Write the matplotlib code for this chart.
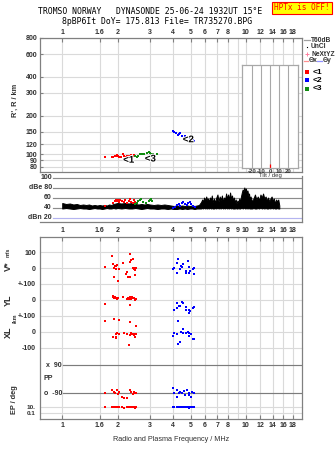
import numpy as np
import matplotlib
matplotlib.use('Agg')
import matplotlib.pyplot as plt
import matplotlib.patheffects as pe
import matplotlib.transforms as mtransforms
from matplotlib.ticker import NullLocator
from matplotlib.lines import Line2D

# ---------------- data ----------------
f_lo, f_hi = 0.757, 20.2
freq_labels_top = [1, 1.6, 2, 3, 4, 5, 6, 7, 8, 10, 12, 14, 16, 18]
freq_labels_mid = [1, 1.6, 2, 3, 4, 5, 6, 7, 8, 9, 10, 12, 14, 16, 18]
freq_grid = [1, 1.6, 2, 3, 4, 5, 6, 7, 8, 9, 10, 12, 14, 16, 18]
height_ticks = [80, 90, 100, 120, 150, 200, 300, 400, 600, 800]
db_ticks = [20, 40, 60, 80, 100]
db_labels = ['dBn 20', '40', '60', 'dBe 80', '100']
pp_ticks = [90, -90]
pp_labels = ['x  90', 'o  -90']
tilt_ticks = [-20, -10, 0, 10, 20]
tilt_value = [0]

# virtual heights (MHz, km)
h1_f = [1.70, 1.86, 1.90, 1.93, 1.96, 1.98, 2.00, 2.05, 2.10, 2.15, 2.18, 2.22, 2.26, 2.30, 2.34, 2.38, 2.42, 2.46]
h1_h = [95, 96, 96, 97, 97, 99, 97, 95, 96, 100, 98, 96, 98, 98, 97, 99, 98, 99]
h3_f = [2.50, 2.55, 2.60, 2.65, 2.72, 2.80, 2.88, 2.95, 3.00, 3.05, 3.12, 3.30]
h3_h = [97, 96, 98, 100, 101, 100, 102, 104, 103, 101, 100, 100]
h2_f = [4.01, 4.05, 4.16, 4.25, 4.30, 4.39, 4.49, 4.58, 4.68, 4.75, 4.88, 4.98, 5.05, 5.13, 5.19]
h2_h = [152, 148, 146, 142, 143, 146, 139, 135, 139, 136, 137, 133, 132, 129, 127]

# amplitude trace (MHz, dB)
amp_freq = [1.00, 1.05, 1.10, 1.15, 1.20, 1.25, 1.30, 1.35, 1.40, 1.45, 1.50, 1.55, 1.60, 1.65,
            1.70, 1.75, 1.80, 1.85, 1.90, 1.95, 2.00, 2.10, 2.20, 2.30, 2.40, 2.50, 2.60, 2.70,
            2.80, 2.90, 3.00, 3.15, 3.30, 3.45, 3.60, 3.75, 3.90, 4.05, 4.20, 4.35, 4.50, 4.65,
            4.80, 4.95, 5.10, 5.25, 5.40, 5.55,
            5.70, 5.78, 5.85, 5.92, 6.00, 6.08, 6.15, 6.22, 6.30, 6.38, 6.45, 6.52, 6.60, 6.70,
            6.80, 6.90, 7.00, 7.10, 7.20, 7.30, 7.40, 7.50, 7.60, 7.70, 7.80, 7.90, 8.00, 8.10,
            8.20, 8.30, 8.40, 8.50, 8.60, 8.70, 8.80, 8.90, 9.00, 9.10, 9.20, 9.30, 9.40, 9.50,
            9.60, 9.70, 9.80, 9.90, 10.0, 10.1, 10.2, 10.3, 10.4, 10.5, 10.6, 10.8, 11.0, 11.2,
            11.4, 11.6, 11.8, 12.0, 12.2, 12.4, 12.6, 12.8, 13.0, 13.2, 13.4, 13.6, 13.8, 14.0,
            14.2, 14.4, 14.6, 14.8, 15.0, 15.2]
amp_top = [50, 48, 49, 47, 48, 46, 47, 46, 47, 45, 46, 45, 46, 45,
           46, 45, 47, 46, 48, 49, 50, 49, 50, 49, 50, 48, 47, 48,
           47, 48, 47, 46, 47, 46, 47, 46, 45, 44, 45, 44, 45, 44,
           45, 44, 45, 44, 45, 46,
           52, 57, 53, 61, 55, 63, 56, 59, 53, 61, 55, 65, 51, 59,
           51, 61, 67, 53, 63, 56, 65, 53, 61, 57, 69, 59, 67, 57,
           71, 59, 65, 55, 61, 51, 57, 49, 55, 51, 59, 53, 63, 71,
           77, 73, 81, 75, 79, 71, 75, 65, 69, 57, 63, 53, 59, 67,
           57, 63, 55, 67, 61, 69, 59, 63, 55, 61, 53, 59, 63, 55,
           59, 49, 57, 53, 57, 45]
amp_bot = [39, 40, 39, 38, 39, 40, 39, 39, 38, 39, 40, 39, 39, 38,
           39, 40, 39, 39, 40, 39, 40, 39, 40, 39, 39, 40, 39, 38,
           39, 40, 39, 39, 38, 39, 39, 38, 39, 38, 38, 39, 38, 39,
           38, 39, 39, 38, 39, 39,
           39, 40, 39, 41, 39, 40, 39, 40, 39, 41, 39, 40, 39, 39,
           40, 39, 41, 39, 40, 39, 41, 39, 40, 39, 41, 39, 40, 39,
           41, 39, 40, 39, 39, 39, 40, 39, 39, 40, 39, 39, 40, 41,
           39, 40, 41, 39, 40, 39, 41, 39, 40, 39, 39, 39, 40, 39,
           39, 40, 39, 41, 39, 40, 39, 40, 39, 39, 40, 39, 41, 39,
           40, 39, 39, 40, 39, 39]

a1_f = [1.70, 1.90, 1.93, 1.96, 1.98, 2.00, 2.03, 2.07, 2.12, 2.16, 2.20, 2.25, 2.30, 2.35, 2.38, 2.42, 2.45, 2.48]
a1_db = [44, 50, 54, 56, 53, 55, 52, 56, 54, 51, 55, 50, 53, 57, 52, 50, 55, 52]
a3_f = [2.50, 2.55, 2.60, 2.65, 2.70, 2.75, 2.85, 2.95, 3.00, 3.05, 3.10]
a3_db = [48, 50, 53, 55, 57, 51, 49, 53, 56, 58, 54]
a2_f = [4.00, 4.10, 4.20, 4.30, 4.40, 4.50, 4.55, 4.65, 4.75, 4.85, 4.95, 5.05, 5.15, 5.25]
a2_db = [40, 41, 45, 47, 44, 50, 52, 47, 45, 49, 51, 48, 44, 42]

# velocities V* (m/s)
v1_f = [1.70, 1.87, 1.88, 1.92, 1.94, 1.96, 1.97, 1.99, 2.03, 1.91, 2.01, 2.14, 2.23,
        2.25, 2.29, 2.33, 2.35, 2.35, 2.37, 2.43, 2.43, 2.45, 2.47, 2.51, 2.50, 2.49]
v1_v = [6, 77, 25, -2, 10, 15, -6, 19, -6, -54, -79, 33, -35,
        -23, -54, -54, 90, 40, 50, 56, 2, -6, -2, 2, -44, -12]
v2_f = [4.25, 4.22, 4.01, 4.08, 4.22, 4.39, 4.45, 4.52, 4.49, 4.54, 4.84, 4.72, 4.88,
        4.88, 4.98, 5.12, 5.23, 5.19, 4.74]
v2_v = [56, 29, -8, 2, -31, -8, 15, 25, 4, 23, 46, -19, 4,
        -33, -19, -6, 2, -38, -31]

# YL (km)
y1_f = [1.70, 1.88, 1.90, 1.92, 1.95, 1.97, 1.99, 2.02, 2.14, 2.24, 2.28, 2.33,
        2.35, 2.38, 2.42, 2.45, 2.48, 2.50, 2.52, 2.30, 2.40]
y1_v = [-25, 28, 20, 10, 18, 12, 4, 12, 16, 6, 14, -30,
        16, 8, 12, 14, 8, -2, 4, 4, 18]
y2_f = [4.22, 4.49, 4.54, 4.30, 4.39, 4.05, 4.22, 4.74, 4.74, 4.88, 4.98, 4.88, 5.15, 5.19]
y2_v = [-17, -10, -17, -38, -38, -63, -52, -42, -63, -63, -67, -79, -48, -42]

# XL (km)
x1_f = [1.70, 1.92, 2.03, 2.35, 2.52, 1.88, 1.96, 1.99, 1.97, 1.96, 2.03, 2.16, 2.25,
        2.33, 2.37, 2.40, 2.45, 2.50, 2.52, 2.30, 2.47]
x1_v = [69, 81, 75, 60, 40, -29, -15, -8, -40, -33, -15, -8, -15,
        -19, -8, -15, -19, -29, -15, -81, -15]
x2_f = [4.25, 4.54, 4.05, 4.01, 4.22, 4.45, 4.52, 4.72, 4.81, 4.90, 4.88, 5.00, 5.15,
        5.23, 4.25, 4.39]
x2_v = [69, 19, -8, -23, -12, -2, -4, -8, -2, -8, -23, -15, -46,
        -44, -75, -60]

# polarisation PP (deg) and EP (deg)
p1_f = [1.70, 1.87, 1.91, 1.95, 1.99, 2.00, 2.03, 2.12, 2.18, 2.25, 2.33, 2.37, 2.43, 2.45, 2.50, 2.53]
p1_v = [-92, -71, -86, -92, -71, -98, -86, -114, -120, -120, -71, -86, -98, -81, -88, -92]
p2_f = [4.01, 4.04, 4.22, 4.31, 4.39, 4.49, 4.58, 4.68, 4.77, 4.87, 4.93, 5.08, 5.23, 5.02, 4.22]
p2_v = [-60, -92, -71, -88, -81, -92, -75, -103, -71, -88, -103, -81, -88, -114, -114]
e1_f = [1.70, 1.87, 1.91, 1.95, 1.99, 2.03, 2.12, 2.18, 2.25, 2.30, 2.33, 2.37, 2.43, 2.47, 2.50, 2.53]
e1_v = [12, 10, 14, 9, 12, 8, 11, 5, 9, 13, 10, 7, 12, 9, 6, 11]
e2_f = [4.01, 4.08, 4.22, 4.31, 4.39, 4.49, 4.58, 4.68, 4.77, 4.87, 4.93, 5.02, 5.08, 5.23]
e2_v = [13, 9, 11, 7, 12, 10, 8, 13, 9, 11, 6, 12, 9, 10]

# ---------------- style ----------------
plt.rcParams['font.family'] = ['Liberation Sans', 'DejaVu Sans']
plt.rcParams['font.weight'] = 'bold'
RED, BLUE, GREEN = '#ff0000', '#0000ff', '#108c10'
FRAME = '#808080'
GRID = '#dadada'
TXT = '#303030'
W, H = 335, 451

fig = plt.figure(figsize=(W / 100, H / 100), dpi=100)


def box(x0, y0, x1, y1):
    return [x0 / W, 1 - y1 / H, (x1 - x0) / W, (y1 - y0) / H]


def fpos(x, y):
    return x / W, 1 - y / H


def freq_axis(ax, grid=True):
    ax.set_xscale('log')
    ax.set_xlim(f_lo, f_hi)
    ax.xaxis.set_minor_locator(NullLocator())
    if grid:
        for f in freq_grid:
            ax.axvline(f, color=GRID, lw=0.8, zorder=0)


def frame(ax, sides=('left', 'right', 'top', 'bottom')):
    for s, sp in ax.spines.items():
        sp.set_visible(s in sides)
        sp.set_color(FRAME)
        sp.set_linewidth(0.9)


def pts(ax, x, y, c):
    ax.plot(x, y, 's', color=c, ms=1.7, mew=0, zorder=4)


def inner_labels(ax, ticks, labels, x_in, color, size=5):
    # labels drawn inside the axes, lines start right of them
    tr = mtransforms.blended_transform_factory(ax.transAxes, ax.transData)
    for v, lab in zip(ticks, labels):
        ax.axhline(v, xmin=x_in, color=color, lw=0.85, zorder=1)
        ax.text(x_in - 0.004, v, lab, transform=tr, fontsize=size, ha='right', va='center',
                color=TXT, clip_on=False)


# ---- height panel ----
axh = fig.add_axes(box(40, 38, 302, 172))
freq_axis(axh)
axh.set_yscale('log')
axh.set_ylim(73, 800)
axh.yaxis.set_minor_locator(NullLocator())
axh.set_yticks(height_ticks)
axh.set_yticklabels([str(v) for v in height_ticks])
for h in height_ticks:
    axh.axhline(h, color=GRID, lw=0.8, zorder=0)
axh.xaxis.tick_top()
axh.set_xticks(freq_labels_top)
axh.set_xticklabels(['%g' % v for v in freq_labels_top])
axh.tick_params(axis='x', direction='in', length=3, pad=1.5, labelsize=5, colors=FRAME, labelcolor=TXT)
axh.tick_params(axis='y', direction='in', length=2, pad=2, labelsize=5, colors=FRAME, labelcolor=TXT)
frame(axh)
pts(axh, h1_f, h1_h, RED)
pts(axh, h3_f, h3_h, GREEN)
pts(axh, h2_f, h2_h, BLUE)
stroke = [pe.withStroke(linewidth=1.5, foreground='white')]
for lab, fx, hy in [('<1', 2.30, 91), ('<3', 3.02, 93), ('<2', 4.86, 131)]:
    axh.text(fx, hy, lab, fontsize=7, color='black', ha='center', va='center',
             path_effects=stroke, zorder=6)
fig.text(*fpos(15, 100), "R', R / km", rotation=90, fontsize=5.3, ha='center', va='center', color=TXT)

# tilt inset
axt = fig.add_axes(box(242, 65, 298, 168))
axt.set_xlim(-31, 31)
axt.set_ylim(0, 1)
axt.set_facecolor('white')
for t in tilt_ticks:
    axt.axvline(t, color='#a8a8a8', lw=0.8)
axt.vlines(tilt_value, 0, 0.04, color=RED, lw=0.9)
axt.set_yticks([])
axt.set_xticks(tilt_ticks)
axt.set_xticklabels([str(t) for t in tilt_ticks])
axt.tick_params(axis='x', length=0, pad=0.8, labelsize=4.3, labelcolor=TXT)
axt.set_xlabel('Tilt / deg', fontsize=4.3, labelpad=-0.5, color=TXT)
frame(axt)
for sp in axt.spines.values():
    sp.set_color('#a8a8a8')

# ---- amplitude panel ----
axa = fig.add_axes(box(40, 176, 302, 222))
freq_axis(axa, grid=False)
axa.set_ylim(12, 104)
inner_labels(axa, db_ticks[1:], db_labels[1:], 13 / 262, '#8c8c8c')
inner_labels(axa, db_ticks[:1], db_labels[:1], 13 / 262, '#b4b4f0')
axa.fill_between(amp_freq, amp_bot, amp_top, color='black', lw=0.7, zorder=2)
pts(axa, a1_f, a1_db, RED)
pts(axa, a3_f, a3_db, GREEN)
pts(axa, a2_f, a2_db, BLUE)
axa.set_yticks([])
axa.set_xticks(freq_labels_mid)
axa.set_xticklabels(['%g' % v for v in freq_labels_mid])
axa.tick_params(axis='x', direction='in', length=0, pad=3.5, labelsize=5, labelcolor=TXT)
frame(axa, sides=('right', 'bottom'))
axa.patch.set_alpha(0)

# ---- bottom panel (stacked bands) ----
bands = {
    'v': (box(40, 237, 302, 284), (-100, 194)),
    'yl': (box(40, 284, 302, 316), (-100, 100)),
    'xl': (box(40, 316, 302, 356), (-150, 100)),
    'pp': (box(40, 356, 302, 400), (-135, 148)),
    'ep': (box(40, 400, 302, 419), (0.001, 2154)),
}
axb = {}
for k, (rect, lim) in bands.items():
    ax = fig.add_axes(rect)
    freq_axis(ax)
    if k == 'ep':
        ax.set_yscale('log')
        ax.yaxis.set_minor_locator(NullLocator())
    ax.set_ylim(*lim)
    ax.set_xticks([])
    frame(ax, sides=())
    ax.patch.set_alpha(0)
    ax.tick_params(axis='y', length=0, pad=3, labelsize=5, labelcolor=TXT)
    axb[k] = ax

axb['v'].set_yticks([100, 0])
axb['v'].set_yticklabels(['100', '0'])
axb['yl'].set_yticks([100, 0])
axb['yl'].set_yticklabels(['+-100', '0'])
axb['xl'].set_yticks([100, 0, -100])
axb['xl'].set_yticklabels(['+-100', '0', '-100'])
axb['pp'].set_yticks([])
axb['ep'].set_yticks([10, 0.1])
axb['ep'].set_yticklabels(['10.', '0.1'])
axb['ep'].tick_params(axis='y', labelsize=4.6)
for k, vals in [('v', [100, 0]), ('yl', [100, 0]), ('xl', [100, 0, -100]), ('ep', [10, 0.1])]:
    for v in vals:
        axb[k].axhline(v, color=GRID, lw=0.8, zorder=0, clip_on=False)
inner_labels(axb['pp'], pp_ticks, pp_labels, 23 / 262, '#7c7c7c')
axb['pp'].text(3 / 262, 0.5, 'PP', transform=axb['pp'].transAxes, fontsize=5,
               ha='left', va='center', color=TXT)

pts(axb['v'], v1_f, v1_v, RED)
pts(axb['v'], v2_f, v2_v, BLUE)
pts(axb['yl'], y1_f, y1_v, RED)
pts(axb['yl'], y2_f, y2_v, BLUE)
pts(axb['xl'], x1_f, x1_v, RED)
pts(axb['xl'], x2_f, x2_v, BLUE)
pts(axb['pp'], p1_f, p1_v, RED)
pts(axb['pp'], p2_f, p2_v, BLUE)
pts(axb['ep'], e1_f, e1_v, RED)
pts(axb['ep'], e2_f, e2_v, BLUE)

axf = fig.add_axes(box(40, 237, 302, 419))
axf.patch.set_alpha(0)
freq_axis(axf, grid=False)
axf.set_yticks([])
axf.set_xticks(freq_labels_top)
axf.set_xticklabels(['%g' % v for v in freq_labels_top])
axf.tick_params(axis='x', which='major', top=True, bottom=True, direction='in', length=3,
                pad=2, labelsize=5, colors=FRAME, labelcolor=TXT)
frame(axf)
axf.set_xlabel('Radio and Plasma Frequency / MHz', fontsize=5.2, labelpad=5, color=TXT)

fig.text(*fpos(8, 266), 'V*', rotation=90, fontsize=6.5, ha='center', va='center', color=TXT)
fig.text(*fpos(8, 252), 'm/s', rotation=90, fontsize=4, ha='center', va='center', color=TXT)
fig.text(*fpos(8, 300), 'YL', rotation=90, fontsize=6.5, ha='center', va='center', color=TXT)
fig.text(*fpos(15, 318), '/km', rotation=90, fontsize=4, ha='center', va='center', color=TXT)
fig.text(*fpos(8, 332), 'XL', rotation=90, fontsize=6.5, ha='center', va='center', color=TXT)
fig.text(*fpos(15, 400), 'EP / deg', rotation=90, fontsize=5.3, ha='center', va='center', color=TXT)

# ---- legend on the right ----
lx = 304
fig.add_artist(Line2D([lx / W, (lx + 6) / W], [1 - 40 / H] * 2, color='#a0a0a0', lw=0.9))
fig.text(*fpos(lx + 7, 40), 'T60dB', fontsize=4.8, va='center', color=TXT)
fig.add_artist(Line2D([(lx + 3) / W], [1 - 47 / H], marker='s', ms=0.8, color='black', mew=0))
fig.text(*fpos(lx + 7, 47), 'UnCl', fontsize=4.8, va='center', color=TXT)
fig.add_artist(Line2D([(lx + 3) / W], [1 - 54 / H], marker='+', ms=3, color='#ff80a0', mew=0.7))
fig.text(*fpos(lx + 7, 54), 'NeXtYZ', fontsize=4.8, va='center', color=TXT)
fig.add_artist(Line2D([lx / W, (lx + 4) / W], [1 - 61 / H] * 2, color='#ff9090', lw=0.9))
fig.text(*fpos(lx + 4.5, 61), '\u0398x', fontsize=4.8, va='center', color=TXT)
fig.add_artist(Line2D([(lx + 13) / W, (lx + 18) / W], [1 - 61 / H] * 2, color='#9090ff', lw=0.9))
fig.text(*fpos(lx + 18.5, 61), '\u0398y', fontsize=4.8, va='center', color=TXT)
for yy, c, lab in [(72, RED, '<1'), (80, BLUE, '<2'), (89, GREEN, '<3')]:
    fig.add_artist(Line2D([(lx + 3) / W], [1 - yy / H], marker='s', ms=2.2, color=c, mew=0))
    fig.text(*fpos(lx + 9, yy), lab, fontsize=6, va='center', color='black')

# ---- titles ----
fig.text(*fpos(150, 12), 'TROMSO NORWAY   DYNASONDE 25-06-24 1932UT 15\u00b0E',
         family='DejaVu Sans Mono', weight='normal', fontsize=5.9, ha='center', va='center')
fig.text(*fpos(157, 21), '8pBP6It DoY= 175.813 File= TR735270.BPG',
         family='DejaVu Sans Mono', weight='normal', fontsize=5.9, ha='center', va='center')
fig.text(*fpos(302, 8), 'HPTx is OFF!', family='DejaVu Sans Mono', weight='normal',
         fontsize=5.6, ha='center', va='center', color=RED,
         bbox=dict(boxstyle='square,pad=0.25', fc='#ffff00', ec=RED, lw=0.8))

fig.savefig('out.png', dpi=100)
